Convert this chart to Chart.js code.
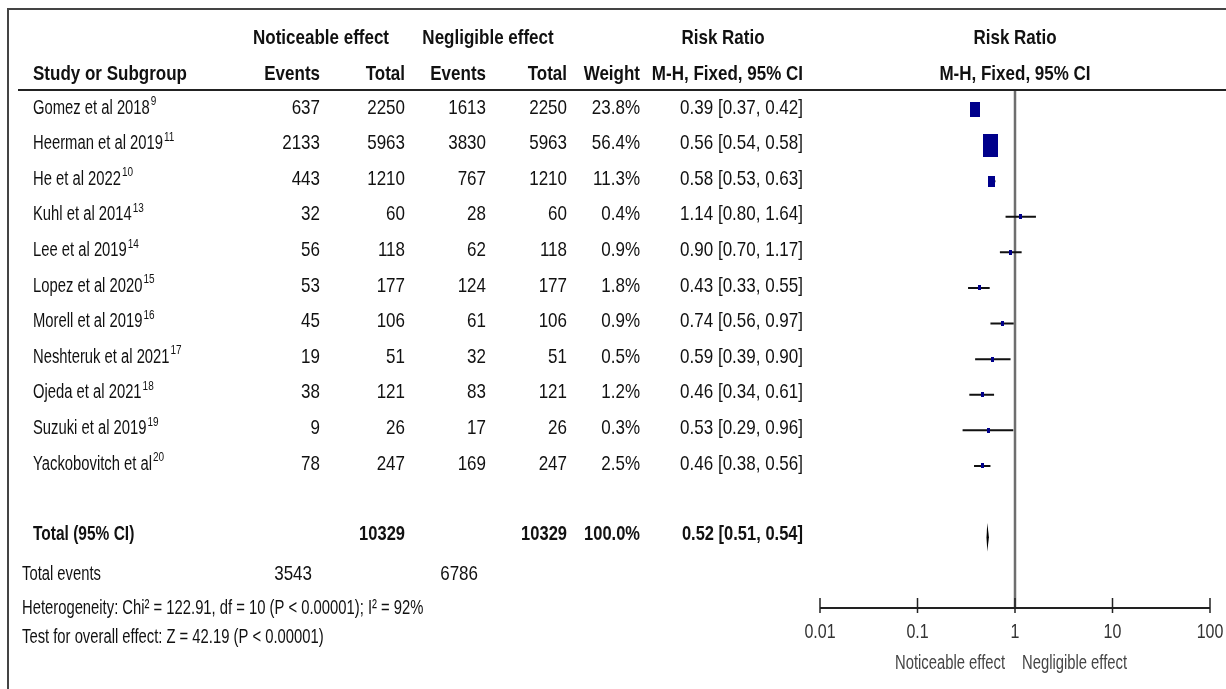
<!DOCTYPE html>
<html>
<head>
<meta charset="utf-8">
<script src="https://cdn.jsdelivr.net/npm/chart.js@4.4.0/dist/chart.umd.min.js"></script>
<style>
html, body { margin: 0; padding: 0; background: #fff; }
canvas { display: block; }
</style>
</head>
<body>
<canvas id="myChart" width="1226" height="689"></canvas>
<script>
// study data
var studies = ["Gomez et al 2018", "Heerman et al 2019", "He et al 2022", "Kuhl et al 2014", "Lee et al 2019",
    "Lopez et al 2020", "Morell et al 2019", "Neshteruk et al 2021", "Ojeda et al 2021", "Suzuki et al 2019",
    "Yackobovitch et al"]
var refs = ["9", "11", "10", "13", "14", "15", "16", "17", "18", "19", "20"]
var events1 = [637, 2133, 443, 32, 56, 53, 45, 19, 38, 9, 78]
var total1 = [2250, 5963, 1210, 60, 118, 177, 106, 51, 121, 26, 247]
var events2 = [1613, 3830, 767, 28, 62, 124, 61, 32, 83, 17, 169]
var total2 = [2250, 5963, 1210, 60, 118, 177, 106, 51, 121, 26, 247]
var weights = [23.8, 56.4, 11.3, 0.4, 0.9, 1.8, 0.9, 0.5, 1.2, 0.3, 2.5]
var rr = [0.39, 0.56, 0.58, 1.14, 0.90, 0.43, 0.74, 0.59, 0.46, 0.53, 0.46]
var ciLow = [0.37, 0.54, 0.53, 0.80, 0.70, 0.33, 0.56, 0.39, 0.34, 0.29, 0.38]
var ciHigh = [0.42, 0.58, 0.63, 1.64, 1.17, 0.55, 0.97, 0.90, 0.61, 0.96, 0.56]

var totalRR = [0.52, 0.51, 0.54]   // estimate, low, high
var totalN = [10329, 10329]
var totalEvents = [3543, 6786]
var heterogeneity = "Heterogeneity: Chi\u00b2 = 122.91, df = 10 (P < 0.00001); I\u00b2 = 92%"
var overallTest = "Test for overall effect: Z = 42.19 (P < 0.00001)"

var axisTicks = [0.01, 0.1, 1, 10, 100]
var axisLabels = ["0.01", "0.1", "1", "10", "100"]
var favourLabels = ["Noticeable effect", "Negligible effect"]

var FONT = '"Liberation Sans", Arial, sans-serif'
var CAP = 14.9   // digit height in px, text is stretched vertically to reach it
var myChart

function fmt(v) { return v.toFixed(2) }

function txt(ctx, s, x, y, align, size, bold, color, cap) {
    ctx.save()
    ctx.translate(x, y)
    ctx.scale(1, (cap || CAP) / (size * 0.716))
    ctx.font = (bold ? 'bold ' : '') + size + 'px ' + FONT
    ctx.fillStyle = color || '#111'
    ctx.textAlign = align
    ctx.textBaseline = 'middle'
    ctx.fillText(s, 0, 0)
    var w = ctx.measureText(s).width
    ctx.restore()
    return w
}

var markers = []
function markerFor(i) {
    if (!markers[i]) {
        var w = Math.max(3, Math.round(2 * Math.sqrt(weights[i])))
        var h = Math.max(3, Math.round(w * 1.5))
        var c = document.createElement('canvas')
        c.width = w
        c.height = h
        var g = c.getContext('2d')
        g.fillStyle = '#00008b'
        g.fillRect(0, 0, w, h)
        markers[i] = c
    }
    return markers[i]
}

var forestPlugin = {
    id: 'forest',
    beforeDatasetsDraw: function (chart) {
        var ctx = chart.ctx, xs = chart.scales.x, a = chart.chartArea
        // line of no effect
        ctx.save()
        ctx.strokeStyle = '#6e6e6e'
        ctx.lineWidth = 2.5
        ctx.beginPath()
        ctx.moveTo(xs.getPixelForValue(1), a.top)
        ctx.lineTo(xs.getPixelForValue(1), a.bottom)
        ctx.stroke()
        // bottom axis
        ctx.strokeStyle = '#222'
        ctx.lineWidth = 2
        ctx.beginPath()
        ctx.moveTo(xs.getPixelForValue(axisTicks[0]), a.bottom)
        ctx.lineTo(xs.getPixelForValue(axisTicks[axisTicks.length - 1]), a.bottom)
        ctx.stroke()
        ctx.lineWidth = 1.5
        axisTicks.forEach(function (t) {
            var px = xs.getPixelForValue(t)
            ctx.beginPath()
            ctx.moveTo(px, a.bottom - 10)
            ctx.lineTo(px, a.bottom + 5)
            ctx.stroke()
        })
        ctx.restore()
    },
    afterDatasetsDraw: function (chart) {
        var ctx = chart.ctx, xs = chart.scales.x, ys = chart.scales.y
        // pooled diamond
        var cy = ys.getPixelForValue(12)
        var h = ys.getPixelForValue(12.4) - cy
        ctx.save()
        ctx.fillStyle = '#000'
        ctx.beginPath()
        ctx.moveTo(xs.getPixelForValue(totalRR[1]), cy)
        ctx.lineTo(xs.getPixelForValue(totalRR[0]), cy - h)
        ctx.lineTo(xs.getPixelForValue(totalRR[2]), cy)
        ctx.lineTo(xs.getPixelForValue(totalRR[0]), cy + h)
        ctx.closePath()
        ctx.fill()
        ctx.restore()
    },
    afterDraw: function (chart) {
        var ctx = chart.ctx, xs = chart.scales.x, ys = chart.scales.y, a = chart.chartArea
        var W = chart.width, H = chart.height
        var x1 = xs.getPixelForValue(1)

        // frame and header rules
        ctx.save()
        ctx.strokeStyle = '#444'
        ctx.lineWidth = 2
        ctx.beginPath()
        ctx.moveTo(8, H)
        ctx.lineTo(8, 9)
        ctx.lineTo(W, 9)
        ctx.stroke()
        ctx.strokeStyle = '#222'
        ctx.beginPath()
        ctx.moveTo(18, a.top)
        ctx.lineTo(W, a.top)
        ctx.stroke()
        ctx.restore()

        // column right edges
        var cEv1 = 320, cTot1 = 405, cEv2 = 486, cTot2 = 567, cW = 640, cCI = 803
        var y1 = ys.getPixelForValue(-2), y2 = ys.getPixelForValue(-1)
        var hs = 17, ns = 14.8, vs = 17
        txt(ctx, "Noticeable effect", 321, y1, 'center', hs, true)
        txt(ctx, "Negligible effect", 488, y1, 'center', hs, true)
        txt(ctx, "Risk Ratio", 723, y1, 'center', hs, true)
        txt(ctx, "Risk Ratio", x1, y1, 'center', hs, true)
        txt(ctx, "Study or Subgroup", 33, y2, 'left', hs, true)
        txt(ctx, "Events", cEv1, y2, 'right', hs, true)
        txt(ctx, "Total", cTot1, y2, 'right', hs, true)
        txt(ctx, "Events", cEv2, y2, 'right', hs, true)
        txt(ctx, "Total", cTot2, y2, 'right', hs, true)
        txt(ctx, "Weight", cW, y2, 'right', hs, true)
        txt(ctx, "M-H, Fixed, 95% CI", cCI, y2, 'right', hs, true)
        txt(ctx, "M-H, Fixed, 95% CI", x1, y2, 'center', hs, true)

        for (var i = 0; i < studies.length; i++) {
            var y = ys.getPixelForValue(i) - 2
            var w = txt(ctx, studies[i], 33, y, 'left', ns, false)
            txt(ctx, refs[i], 33 + w + 1, y - 6, 'left', 10, false, '#111', 8.5)
            txt(ctx, String(events1[i]), cEv1, y, 'right', vs, false)
            txt(ctx, String(total1[i]), cTot1, y, 'right', vs, false)
            txt(ctx, String(events2[i]), cEv2, y, 'right', vs, false)
            txt(ctx, String(total2[i]), cTot2, y, 'right', vs, false)
            txt(ctx, weights[i].toFixed(1) + "%", cW, y, 'right', vs, false)
            txt(ctx, fmt(rr[i]) + " [" + fmt(ciLow[i]) + ", " + fmt(ciHigh[i]) + "]", cCI, y, 'right', vs, false)
        }

        var yt = ys.getPixelForValue(12) - 3
        txt(ctx, "Total (95% CI)", 33, yt, 'left', 15.5, true)
        txt(ctx, String(totalN[0]), cTot1, yt, 'right', 16.5, true)
        txt(ctx, String(totalN[1]), cTot2, yt, 'right', 16.5, true)
        txt(ctx, "100.0%", cW, yt, 'right', 16.5, true)
        txt(ctx, fmt(totalRR[0]) + " [" + fmt(totalRR[1]) + ", " + fmt(totalRR[2]) + "]", cCI, yt, 'right', 16.5, true)

        var ye = ys.getPixelForValue(13.05)
        txt(ctx, "Total events", 22, ye, 'left', ns, false)
        txt(ctx, String(totalEvents[0]), cEv1 - 8, ye, 'right', vs, false)
        txt(ctx, String(totalEvents[1]), cEv2 - 8, ye, 'right', vs, false)
        txt(ctx, heterogeneity, 22, ys.getPixelForValue(14.0), 'left', ns, false)
        txt(ctx, overallTest, 22, ys.getPixelForValue(14.8), 'left', ns, false)

        // axis labels
        axisTicks.forEach(function (t, i) {
            txt(ctx, axisLabels[i], xs.getPixelForValue(t), a.bottom + 24, 'center', 16, false, '#333')
        })
        txt(ctx, favourLabels[0], x1 - 10, a.bottom + 55, 'right', 14.8, false, '#444')
        txt(ctx, favourLabels[1], x1 + 7, a.bottom + 55, 'left', 14.8, false, '#444')
    }
}

function Graphic() {
    var ciPoints = []
    for (var i = 0; i < studies.length; i++) {
        ciPoints.push({ x: ciLow[i], y: i }, { x: ciHigh[i], y: i }, { x: ciHigh[i], y: null })
    }
    var points = rr.map(function (v, i) { return { x: v, y: i } })

    var ctx = document.getElementById('myChart')
    myChart = new Chart(ctx, {
        type: 'scatter',
        data: {
            datasets: [{
                type: 'line',
                label: 'CI',
                data: ciPoints,
                borderColor: '#111',
                borderWidth: 2,
                pointRadius: 0,
                spanGaps: false,
                showLine: true,
                order: 2
            },
            {
                label: 'RR',
                data: points,
                pointStyle: function (c) { return markerFor(c.dataIndex) },
                pointRadius: 4,
                backgroundColor: '#00008b',
                borderWidth: 0,
                order: 1
            }]
        },
        options: {
            responsive: false,
            animation: false,
            events: [],
            layout: { padding: { left: 820, right: 16, top: 90, bottom: 81 } },
            scales: {
                x: { type: 'logarithmic', min: 0.01, max: 100, display: false },
                y: { type: 'linear', min: -0.56, max: 13.99, reverse: true, display: false }
            },
            plugins: { legend: { display: false }, tooltip: { enabled: false } }
        },
        plugins: [forestPlugin]
    })
}

window.addEventListener("load", Graphic)
</script>
</body>
</html>
